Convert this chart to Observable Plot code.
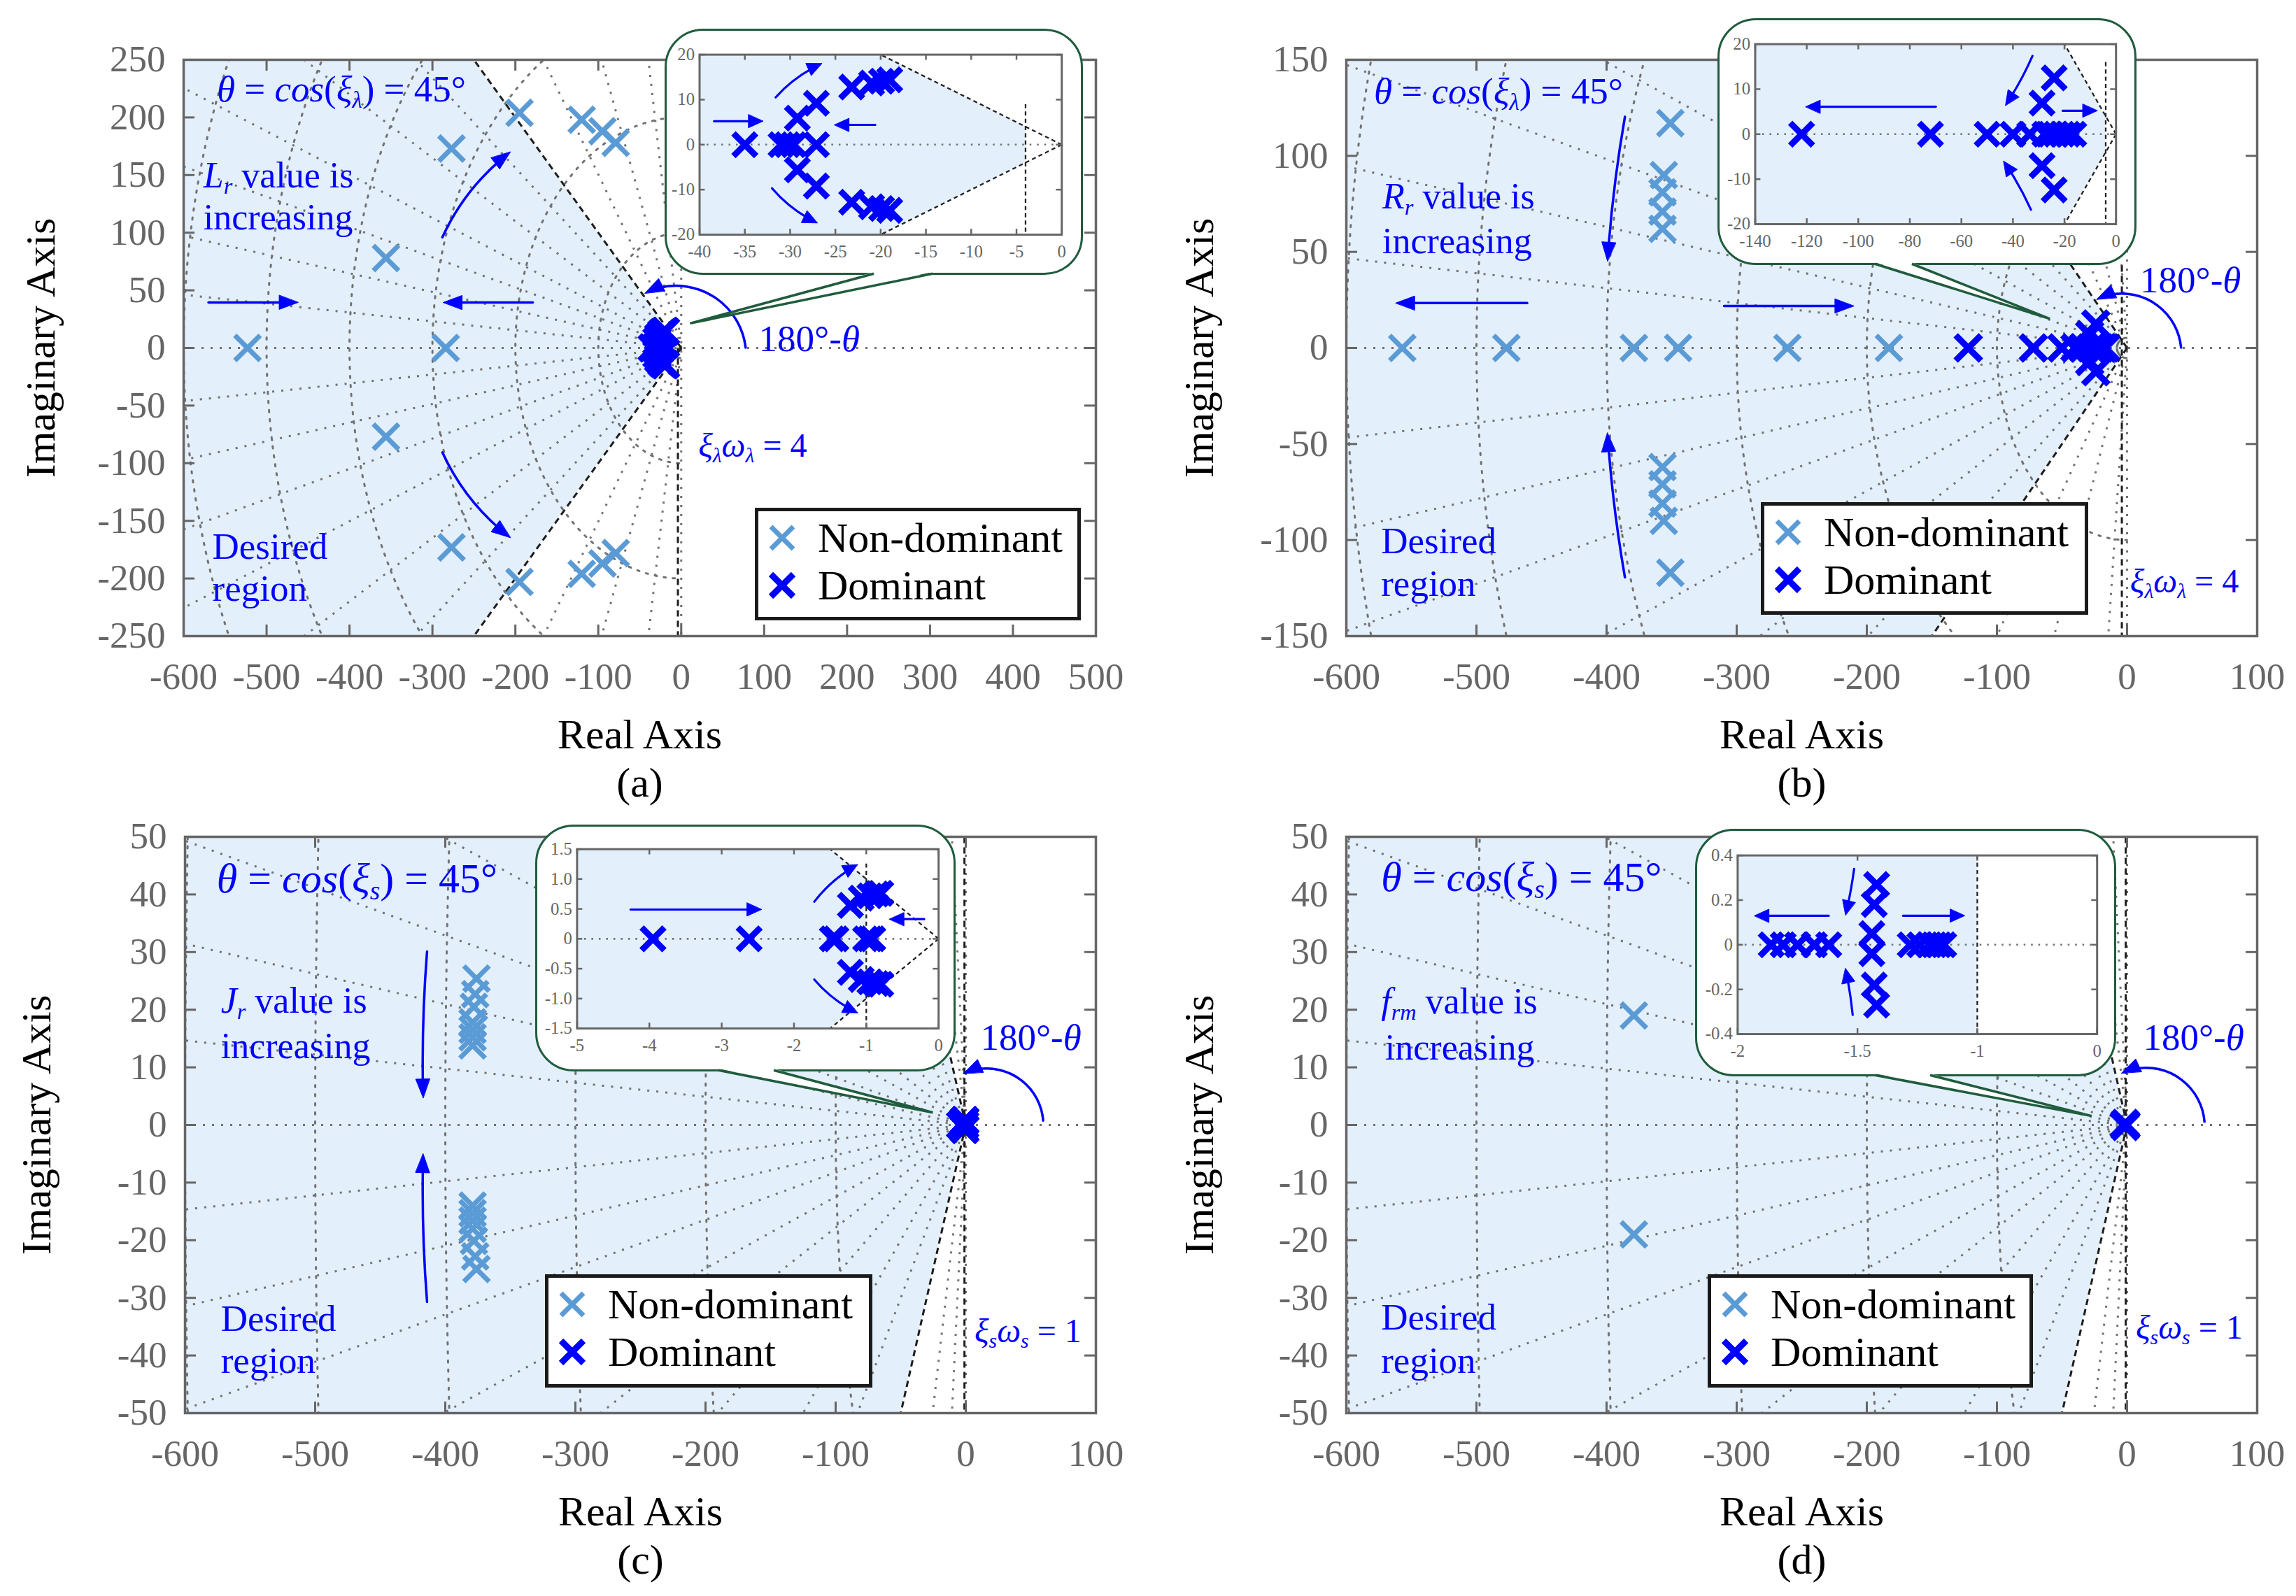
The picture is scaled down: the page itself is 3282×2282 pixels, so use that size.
<!DOCTYPE html>
<html>
<head>
<meta charset="utf-8">
<script src="https://cdn.jsdelivr.net/npm/d3@7"></script>
<script src="https://cdn.jsdelivr.net/npm/@observablehq/plot@0.6"></script>
<style>
  html, body { margin: 0; padding: 0; background: #fff; }
  #root { position: relative; width: 3282px; height: 2282px; overflow: hidden; background: #fff;
    font-family: "Liberation Serif", "Times New Roman", serif; }
  #root svg { display: block; }
  .panel { position: absolute; }
  .ann { position: absolute; color: #0000ff; white-space: nowrap; line-height: 1; transform: translateY(-50%); z-index: 2; }
  .ann sub { font-size: 0.62em; vertical-align: -0.28em; line-height: 0; }
  .legend { position: absolute; border: 5px solid #1a1a1a; background: #fff; box-sizing: border-box; z-index: 3; }
  .legend .lab { position: absolute; font-size: 60px; line-height: 1; color: #000; transform: translateY(-50%); white-space: nowrap; }
  .legend svg { position: absolute; }
  .bubble { position: absolute; border: 3.5px solid #1f5c3d; border-radius: 55px; background: #fff; box-sizing: border-box; z-index: 4; }
  .bubble > svg { position: absolute; left: -3.5px; top: -3.5px; }
  #tails { position: absolute; left: 0; top: 0; z-index: 5; pointer-events: none; }
</style>
</head>
<body>
<div id="root"></div>
<script>
const FONT = '"Liberation Serif","Times New Roman",serif';
const LIGHT = "#5b9bd5";
const DARK = "#0000ff";
const FILL = "#e3effa";
const GRID = "#727272";
const AXIS = "#666666";
const GREEN = "#1f5c3d";

// ================= Panel (a) : Lr =================
const a_xTicks = [-600, -500, -400, -300, -200, -100, 0, 100, 200, 300, 400, 500];
const a_yTicks = [-250, -200, -150, -100, -50, 0, 50, 100, 150, 200, 250];
const a_nonDomX = [-523, -356, -356, -284, -277, -277, -195, -195, -120, -95, -79, -120, -95, -79];
const a_nonDomY = [0, 78, -77, 0, 173, -173, 204, -203, 198, 188, 178, -196, -187, -178];
const a_domX = [-35, -31, -30.3, -29.6, -27.1, -29.2, -29.2, -27.1, -27.1, -23.2, -21, -19.9, -19, -23.2, -21, -19.9, -19];
const a_domY = [0, 0, 0, 0, 0, 5.9, -5.6, 9.2, -9.2, 12.8, 13.7, 14.1, 14.4, -12.8, -13.8, -14.2, -14.6];
const a_gridAngles = [4.4, 9.2, 14.7, 20.6, 28.8, 38, 56.4, 69, 81];
const a_gridRadii = [100, 200, 300, 400, 500, 600];
const a_insetXTicks = [-40, -35, -30, -25, -20, -15, -10, -5, 0];
const a_insetYTicks = [-20, -10, 0, 10, 20];
const a_arrows = [
  {x1: -570, y1: 39.5, x2: -462, y2: 39.5, bend: 0},
  {x1: -179, y1: 39.5, x2: -287, y2: 39.5, bend: 0},
  {x1: -288, y1: 96, x2: -206, y2: 170, bend: 14},
  {x1: -288, y1: -90.6, x2: -206, y2: -164.6, bend: -14},
  {x1: 77.7, y1: 0.3, x2: -43.8, y2: 47.5, bend: -55}
];
const a_insetArrows = [
  {x1: -38.4, y1: 5.2, x2: -33, y2: 5.2, bend: 0},
  {x1: -20.6, y1: 4.4, x2: -25.1, y2: 4.4, bend: 0},
  {x1: -31.6, y1: 10.5, x2: -26.5, y2: 18, bend: 12},
  {x1: -32, y1: -9.7, x2: -27, y2: -17.4, bend: -12}
];
const a_texts = [
  {x: -559.5, y: 224.5, size: 53, html: '<i>θ</i> = <i>cos</i>(<i>ξ<sub>λ</sub></i>) = 45°'},
  {x: -575.7, y: 149.5, size: 52, html: '<i>L<sub>r</sub></i> value is'},
  {x: -575.7, y: 113, size: 52, html: 'increasing'},
  {x: -565, y: -172.5, size: 53, html: 'Desired'},
  {x: -565, y: -209, size: 53, html: 'region'},
  {x: 93.9, y: 7.6, size: 53, html: '180°-<i>θ</i>'},
  {x: 21, y: -85, size: 48, html: '<i>ξ<sub>λ</sub>ω<sub>λ</sub></i> = 4'}
];

// ================= Panel (b) : Rr =================
const b_xTicks = [-600, -500, -400, -300, -200, -100, 0, 100];
const b_yTicks = [-150, -100, -50, 0, 50, 100, 150];
const b_nonDomX = [-557, -477, -379, -345, -261, -183, -351, -356, -357, -357, -357, -351, -356, -357, -357, -357];
const b_nonDomY = [0, 0, 0, 0, 0, 0, 117, 90, 81, 71, 62, -117, -90, -81, -71, -62];
const b_domX = [-122, -72, -50, -40, -33.5, -27.6, -25.4, -23.2, -20.9, -18.7, -16.4, -24, -28.7, -28.7, -24];
const b_domY = [0, 0, 0, 0, 0, 0, 0, 0, 0, 0, 0, 12.5, 6.9, -7, -12.4];
const b_gridAngles = [4.45, 8.95, 13.8, 20.4, 28, 37, 56.3, 69.5, 84.5];
const b_gridRadii = [100, 200, 300, 400, 500, 600];
const b_insetXTicks = [-140, -120, -100, -80, -60, -40, -20, 0];
const b_insetYTicks = [-20, -10, 0, 10, 20];
const b_arrows = [
  {x1: -461, y1: 23.4, x2: -562, y2: 23.4, bend: 0},
  {x1: -309.7, y1: 21.8, x2: -210, y2: 21.8, bend: 0},
  {x1: -385.9, y1: 120.3, x2: -399.3, y2: 45.2, bend: -3},
  {x1: -385.9, y1: -119.4, x2: -399.3, y2: -44.2, bend: 3},
  {x1: 41.5, y1: 0.2, x2: -23.4, y2: 25.3, bend: -55}
];
const b_insetArrows = [
  {x1: -69.9, y1: 6.1, x2: -120.4, y2: 6.1, bend: 0},
  {x1: -20.7, y1: 5.2, x2: -7.3, y2: 5.2, bend: 0},
  {x1: -32.4, y1: 17.4, x2: -42.9, y2: 6.4, bend: 5},
  {x1: -33, y1: -16.8, x2: -43.6, y2: -6, bend: -5}
];
const b_texts = [
  {x: -578.5, y: 133.7, size: 53, html: '<i>θ</i> = <i>cos</i>(<i>ξ<sub>λ</sub></i>) = 45°'},
  {x: -572, y: 78.8, size: 52, html: '<i>R<sub>r</sub></i> value is'},
  {x: -572, y: 55.2, size: 52, html: 'increasing'},
  {x: -573, y: -100.6, size: 53, html: 'Desired'},
  {x: -573, y: -122.6, size: 53, html: 'region'},
  {x: 10.2, y: 35.2, size: 53, html: '180°-<i>θ</i>'},
  {x: 2.6, y: -121.6, size: 48, html: '<i>ξ<sub>λ</sub>ω<sub>λ</sub></i> = 4'}
];

// ================= Panel (c) : Jr =================
const c_xTicks = [-600, -500, -400, -300, -200, -100, 0, 100];
const c_yTicks = [-50, -40, -30, -20, -10, 0, 10, 20, 30, 40, 50];
const c_nonDomX = [-376, -377, -378, -379, -379, -379, -379, -379, -379, -379, -379, -378, -377, -376];
const c_nonDomY = [25.4, 22.7, 20.5, 17.8, 16.5, 15.2, 13.8, -14, -15.3, -16.6, -18, -20.1, -22.8, -25];
const c_domX = [-3.95, -2.62, -1.47, -1.42, -1.01, -0.95, -0.91, -1.22, -1.07, -0.95, -0.86, -0.8, -1.22, -1.07, -0.95, -0.86, -0.8];
const c_domY = [0, 0, 0, 0, 0, 0, 0, 0.56, 0.68, 0.72, 0.75, 0.76, -0.56, -0.68, -0.72, -0.75, -0.76];
const c_gridAngles = [1.4, 3, 4.7, 7.1, 10.1, 14.7, 21.8, 31, 63, 78];
const c_gridRadii = [100, 200, 300, 400, 500, 600];
const c_insetXTicks = [-5, -4, -3, -2, -1, 0];
const c_insetYTicks = [-1.5, -1, -0.5, 0, 0.5, 1, 1.5];
const c_arrows = [
  {x1: -414, y1: 30.1, x2: -417, y2: 4.7, bend: -3},
  {x1: -414, y1: -30.7, x2: -417, y2: -5, bend: 3},
  {x1: 59.5, y1: 0.76, x2: -1.9, y2: 8.9, bend: -55}
];
const c_insetArrows = [
  {x1: -4.26, y1: 0.49, x2: -2.45, y2: 0.49, bend: 0},
  {x1: -0.2, y1: 0.33, x2: -0.68, y2: 0.33, bend: 0},
  {x1: -1.72, y1: 0.62, x2: -1.12, y2: 1.24, bend: 12},
  {x1: -1.72, y1: -0.68, x2: -1.12, y2: -1.24, bend: -12}
];
const c_texts = [
  {x: -575.4, y: 42.7, size: 60, html: '<i>θ</i> = <i>cos</i>(<i>ξ<sub>s</sub></i>) = 45°'},
  {x: -572.2, y: 21.5, size: 52, html: '<i>J<sub>r</sub></i> value is'},
  {x: -572.2, y: 13.6, size: 52, html: 'increasing'},
  {x: -572.2, y: -33.6, size: 53, html: 'Desired'},
  {x: -572.2, y: -40.9, size: 53, html: 'region'},
  {x: 11.5, y: 15.2, size: 53, html: '180°-<i>θ</i>'},
  {x: 7, y: -35.8, size: 48, html: '<i>ξ<sub>s</sub>ω<sub>s</sub></i> = 1'}
];

// ================= Panel (d) : frm =================
const d_xTicks = [-600, -500, -400, -300, -200, -100, 0, 100];
const d_yTicks = [-50, -40, -30, -20, -10, 0, 10, 20, 30, 40, 50];
const d_nonDomX = [-379, -379];
const d_nonDomY = [19, -19];
const d_domX = [-1.86, -1.81, -1.75, -1.68, -1.62, -1.42, -1.43, -1.44, -1.44, -1.43, -1.42, -1.28, -1.24, -1.2, -1.18, -1.16, -1.14];
const d_domY = [0, 0, 0, 0, 0, 0.27, 0.18, 0.05, -0.04, -0.18, -0.27, 0, 0, 0, 0, 0, 0];
const d_gridAngles = [1.4, 3, 4.7, 7.1, 10.1, 14.7, 21.8, 31, 63, 78];
const d_gridRadii = [100, 200, 300, 400, 500, 600];
const d_insetXTicks = [-2, -1.5, -1, -0.5];
const d_insetXLabels = ["-2", "-1.5", "-1", "0"];
const d_insetYTicks = [-0.4, -0.2, 0, 0.2, 0.4];
const d_arrows = [
  {x1: 59.5, y1: 0.57, x2: -4.3, y2: 9, bend: -55}
];
const d_insetArrows = [
  {x1: -1.62, y1: 0.13, x2: -1.93, y2: 0.13, bend: 0},
  {x1: -1.31, y1: 0.13, x2: -1.053, y2: 0.13, bend: 0},
  {x1: -1.514, y1: 0.34, x2: -1.55, y2: 0.133, bend: 3},
  {x1: -1.52, y1: -0.314, x2: -1.55, y2: -0.106, bend: -3}
];
const d_texts = [
  {x: -573, y: 43, size: 60, html: '<i>θ</i> = <i>cos</i>(<i>ξ<sub>s</sub></i>) = 45°'},
  {x: -573, y: 21.4, size: 52, html: '<i>f<sub>rm</sub></i> value is'},
  {x: -570, y: 13.4, size: 52, html: 'increasing'},
  {x: -573, y: -33.4, size: 53, html: 'Desired'},
  {x: -573, y: -40.9, size: 53, html: 'region'},
  {x: 12.6, y: 15.2, size: 53, html: '180°-<i>θ</i>'},
  {x: 7, y: -35.2, size: 48, html: '<i>ξ<sub>s</sub>ω<sub>s</sub></i> = 1'}
];

const legendItems = [
  {label: "Non-dominant", color: LIGHT, sw: 7},
  {label: "Dominant", color: DARK, sw: 9}
];

const fmt = d => String(d);
const fmt1 = d => (d === 0 ? "0" : d.toFixed(1));

const panels = [
  {
    left: 0, top: 0, width: 1640, height: 1141, margin: {l: 262, r: 74, t: 85, b: 232},
    xDomain: [-600, 500], yDomain: [-250, 250], xTicks: a_xTicks, yTicks: a_yTicks,
    sigma: 4, vTop: 0, gridAngles: a_gridAngles, gridRadii: a_gridRadii,
    nonDomX: a_nonDomX, nonDomY: a_nonDomY, domX: a_domX, domY: a_domY,
    arrows: a_arrows, texts: a_texts, caption: "(a)", yTitleDx: -204,
    legend: {left: 1079, top: 726, w: 466, h: 161},
    bubble: {left: 950, top: 41, w: 598, h: 352, tipX: 11, tipY: 21, b1: 299, b2: 383},
    inset: {margin: {l: 50, r: 25, t: 37, b: 55}, xDomain: [-40, 0], yDomain: [-20, 20],
      xTicks: a_insetXTicks, yTicks: a_insetYTicks, xFormat: fmt, yFormat: fmt, vTop: 9, diag: true, arrows: a_insetArrows}
  },
  {
    left: 1640, top: 0, width: 1642, height: 1141, margin: {l: 284, r: 56, t: 85, b: 232},
    xDomain: [-600, 100], yDomain: [-150, 150], xTicks: b_xTicks, yTicks: b_yTicks,
    sigma: 4, vTop: 43, gridAngles: b_gridAngles, gridRadii: b_gridRadii,
    nonDomX: b_nonDomX, nonDomY: b_nonDomY, domX: b_domX, domY: b_domY,
    arrows: b_arrows, texts: b_texts, caption: "(b)", yTitleDx: -210,
    legend: {left: 2517, top: 718, w: 468, h: 161},
    bubble: {left: 2455, top: 26, w: 599, h: 353, tipX: -59, tipY: 15, b1: 225, b2: 278},
    inset: {margin: {l: 54, r: 24, t: 37, b: 56}, xDomain: [-140, 0], yDomain: [-20, 20],
      xTicks: b_insetXTicks, yTicks: b_insetYTicks, xFormat: fmt, yFormat: fmt, vTop: 16, diag: true, arrows: b_insetArrows}
  },
  {
    left: 0, top: 1141, width: 1640, height: 1141, margin: {l: 264, r: 74, t: 55, b: 262},
    xDomain: [-600, 100], yDomain: [-50, 50], xTicks: c_xTicks, yTicks: c_yTicks,
    sigma: 1, vTop: 50, gridAngles: c_gridAngles, gridRadii: c_gridRadii,
    nonDomX: c_nonDomX, nonDomY: c_nonDomY, domX: c_domX, domY: c_domY,
    arrows: c_arrows, texts: c_texts, caption: "(c)", yTitleDx: -212,
    legend: {left: 779, top: 1822, w: 468, h: 162},
    bubble: {left: 765, top: 1179, w: 601, h: 353, tipX: -25, tipY: 2.1, b1: 262, b2: 341},
    inset: {margin: {l: 60, r: 19, t: 35, b: 59}, xDomain: [-5, 0], yDomain: [-1.5, 1.5],
      xTicks: c_insetXTicks, yTicks: c_insetYTicks, xFormat: fmt, yFormat: fmt1, vTop: 1.26, diag: true, arrows: c_insetArrows}
  },
  {
    left: 1640, top: 1141, width: 1642, height: 1141, margin: {l: 284, r: 56, t: 55, b: 262},
    xDomain: [-600, 100], yDomain: [-50, 50], xTicks: d_xTicks, yTicks: d_yTicks,
    sigma: 1, vTop: 50, gridAngles: d_gridAngles, gridRadii: d_gridRadii,
    nonDomX: d_nonDomX, nonDomY: d_nonDomY, domX: d_domX, domY: d_domY,
    arrows: d_arrows, texts: d_texts, caption: "(d)", yTitleDx: -210,
    legend: {left: 2441, top: 1822, w: 465, h: 162},
    bubble: {left: 2423, top: 1185, w: 602, h: 354, tipX: -27, tipY: 1.5, b1: 257, b2: 336},
    inset: {margin: {l: 61, r: 22, t: 38, b: 58}, xDomain: [-2, -0.5], yDomain: [-0.4, 0.4],
      xTicks: d_insetXTicks, yTicks: d_insetYTicks,
      xFormat: d => d_insetXLabels[d_insetXTicks.indexOf(d)], yFormat: fmt1, vTop: 0.4, diag: false, arrows: d_insetArrows}
  }
];

// ---------- helpers ----------
function regionPoints(xmin, ymax, s) {
  const pts = [{x: xmin, lo: -Math.min(-xmin, ymax), hi: Math.min(-xmin, ymax)}];
  if (-ymax > xmin && -ymax < -s) pts.push({x: -ymax, lo: -ymax, hi: ymax});
  pts.push({x: -s, lo: -Math.min(s, ymax), hi: Math.min(s, ymax)});
  return pts;
}
function headPolys(arrows, kx, ky, L, Wd) {
  const out = [];
  arrows.forEach((a, i) => {
    const dxs = (a.x2 - a.x1) * kx, dys = -(a.y2 - a.y1) * ky;
    const phi = Math.atan2(dys, dxs) + (a.bend || 0) * Math.PI / 180;
    const c = Math.cos(phi), s = Math.sin(phi);
    const bx = -L * c, by = -L * s, px = -s * Wd / 2, py = c * Wd / 2;
    const toData = (ox, oy) => ({id: i, x: a.x2 + ox / kx, y: a.y2 - oy / ky});
    out.push(toData(0, 0), toData(bx + px, by + py), toData(bx - px, by - py));
  });
  return out;
}
function frameTicks(xTicks, yTicks, pw, ph, len, sw) {
  return [
    Plot.tickX(xTicks, {x: d => d, insetTop: ph - len, stroke: AXIS, strokeWidth: sw}),
    Plot.tickX(xTicks, {x: d => d, insetBottom: ph - len, stroke: AXIS, strokeWidth: sw}),
    Plot.tickY(yTicks, {y: d => d, insetRight: pw - len, stroke: AXIS, strokeWidth: sw}),
    Plot.tickY(yTicks, {y: d => d, insetLeft: pw - len, stroke: AXIS, strokeWidth: sw})
  ];
}
function arrowMarks(arrows, kx, ky, sw, L, Wd) {
  return [
    ...arrows.map(a => Plot.arrow([a], {x1: "x1", y1: "y1", x2: "x2", y2: "y2", bend: a.bend,
      stroke: DARK, strokeWidth: sw, headLength: 0, insetEnd: L * 0.75})),
    Plot.line(headPolys(arrows, kx, ky, L, Wd), {x: "x", y: "y", z: "id", fill: DARK, stroke: DARK, strokeWidth: 1, curve: "linear-closed"})
  ];
}

const root = document.getElementById("root");
const tails = [];

function buildInset(p, bubbleEl) {
  const I = p.inset, B = p.bubble;
  const {l, r, t, b} = I.margin;
  const W = B.w, H = B.h;
  const pw = W - l - r, ph = H - t - b;
  const [x0, x1] = I.xDomain, [y0, y1] = I.yDomain;
  const kx = pw / (x1 - x0), ky = ph / (y1 - y0);
  const dom = p.domX.map((x, i) => ({x, y: p.domY[i]}));
  const FAR = 1e4;
  const diag = [{x1: 0, y1: 0, x2: -FAR, y2: FAR}, {x1: 0, y1: 0, x2: -FAR, y2: -FAR}];
  const plot = Plot.plot({
    width: W, height: H, marginLeft: l, marginRight: r, marginTop: t, marginBottom: b,
    x: {domain: I.xDomain}, y: {domain: I.yDomain},
    style: {fontFamily: FONT, fontSize: "25px", color: AXIS, background: "transparent", overflow: "visible"},
    marks: [
      Plot.areaY(regionPoints(x0, y1, p.sigma), {x: "x", y1: "lo", y2: "hi", fill: FILL, curve: "linear"}),
      Plot.ruleY([0], {stroke: GRID, strokeWidth: 2.6, strokeDasharray: "2.6,8"}),
      I.diag ? Plot.link(diag, {x1: "x1", y1: "y1", x2: "x2", y2: "y2", stroke: "#222", strokeWidth: 2.3, strokeDasharray: "6,4.5", clip: true}) : null,
      Plot.link([{x: -p.sigma, ya: I.vTop, yb: y0}], {x1: "x", x2: "x", y1: "ya", y2: "yb", stroke: "#222", strokeWidth: 2.3, strokeDasharray: "6,4.5"}),
      Plot.dot(dom, {x: "x", y: "y", symbol: "times", r: 15, stroke: DARK, strokeWidth: 9, fill: "none", clip: true}),
      ...arrowMarks(I.arrows, kx, ky, 3.2, 21, 19),
      Plot.frame({stroke: AXIS, strokeWidth: 3}),
      ...frameTicks(I.xTicks, I.yTicks, pw, ph, 8, 2.5),
      Plot.axisX({ticks: I.xTicks, anchor: "bottom", tickSize: 0, tickPadding: 15, tickFormat: I.xFormat, fontSize: 25, fontFamily: FONT, label: null}),
      Plot.axisY({ticks: I.yTicks, anchor: "left", tickSize: 0, tickPadding: 7, tickFormat: I.yFormat, fontSize: 25, fontFamily: FONT, label: null})
    ]
  });
  bubbleEl.appendChild(plot);
}

function buildMain(p) {
  const {l, r, t, b} = p.margin;
  const pw = p.width - l - r, ph = p.height - t - b;
  const [x0, x1] = p.xDomain, [y0, y1] = p.yDomain;
  const kx = pw / (x1 - x0), ky = ph / (y1 - y0);
  const nonDom = p.nonDomX.map((x, i) => ({x, y: p.nonDomY[i]}));
  const dom = p.domX.map((x, i) => ({x, y: p.domY[i]}));
  const FAR = 1e5;
  const radial = p.gridAngles.flatMap(a => {
    const c = Math.cos(a * Math.PI / 180), s = Math.sin(a * Math.PI / 180);
    return [{x1: 0, y1: 0, x2: -FAR * c, y2: FAR * s}, {x1: 0, y1: 0, x2: -FAR * c, y2: -FAR * s}];
  });
  const arcs = [];
  p.gridRadii.forEach(rad => {
    for (let d = 90; d <= 270; d += 1) arcs.push({rad, x: rad * Math.cos(d * Math.PI / 180), y: rad * Math.sin(d * Math.PI / 180)});
  });
  const diag = [{x1: 0, y1: 0, x2: -FAR, y2: FAR}, {x1: 0, y1: 0, x2: -FAR, y2: -FAR}];
  const dotted = {stroke: GRID, strokeWidth: 3, strokeDasharray: "3,10"};
  const dashed = {stroke: "#1e1e1e", strokeWidth: 3, strokeDasharray: "9,6"};
  const plot = Plot.plot({
    width: p.width, height: p.height, marginLeft: l, marginRight: r, marginTop: t, marginBottom: b,
    x: {domain: p.xDomain}, y: {domain: p.yDomain},
    style: {fontFamily: FONT, fontSize: "53px", color: AXIS, background: "transparent", overflow: "visible"},
    marks: [
      Plot.areaY(regionPoints(x0, y1, p.sigma), {x: "x", y1: "lo", y2: "hi", fill: FILL, curve: "linear"}),
      Plot.link(radial, {x1: "x1", y1: "y1", x2: "x2", y2: "y2", ...dotted, clip: true}),
      Plot.line(arcs, {x: "x", y: "y", z: "rad", ...dotted, clip: true}),
      Plot.ruleY([0], dotted),
      Plot.ruleX([0], dotted),
      Plot.link(diag, {x1: "x1", y1: "y1", x2: "x2", y2: "y2", ...dashed, clip: true}),
      Plot.link([{x: -p.sigma, ya: p.vTop, yb: y0}], {x1: "x", x2: "x", y1: "ya", y2: "yb", ...dashed}),
      Plot.dot(nonDom, {x: "x", y: "y", symbol: "times", r: 16.5, stroke: LIGHT, strokeWidth: 7, fill: "none"}),
      Plot.dot(dom, {x: "x", y: "y", symbol: "times", r: 16.5, stroke: DARK, strokeWidth: 9, fill: "none"}),
      ...arrowMarks(p.arrows, kx, ky, 3.5, 27, 20),
      Plot.frame({stroke: AXIS, strokeWidth: 3.5}),
      ...frameTicks(p.xTicks, p.yTicks, pw, ph, 16, 3),
      Plot.axisX({ticks: p.xTicks, anchor: "bottom", tickSize: 0, tickPadding: 38, tickFormat: fmt, fontSize: 53, fontFamily: FONT, label: null}),
      Plot.axisY({ticks: p.yTicks, anchor: "left", tickSize: 0, tickPadding: 26, tickFormat: fmt, fontSize: 53, fontFamily: FONT, label: null}),
      Plot.text(["Real Axis"], {text: d => d, frameAnchor: "bottom", lineAnchor: "middle", textAnchor: "middle", dy: 141, fontSize: 60, fontFamily: FONT, fill: "#000"}),
      Plot.text(["Imaginary Axis"], {text: d => d, frameAnchor: "left", lineAnchor: "middle", textAnchor: "middle", dx: p.yTitleDx, rotate: -90, fontSize: 60, fontFamily: FONT, fill: "#000"}),
      Plot.text([p.caption], {text: d => d, frameAnchor: "bottom", lineAnchor: "middle", textAnchor: "middle", dy: 210, fontSize: 60, fontFamily: FONT, fill: "#000"})
    ]
  });
  const wrap = document.createElement("div");
  wrap.className = "panel";
  wrap.style.left = p.left + "px";
  wrap.style.top = p.top + "px";
  wrap.appendChild(plot);
  root.appendChild(wrap);

  const sx = plot.scale("x"), sy = plot.scale("y");
  // annotations
  p.texts.forEach(tx => {
    const d = document.createElement("div");
    d.className = "ann";
    d.style.left = (p.left + sx.apply(tx.x)) + "px";
    d.style.top = (p.top + sy.apply(tx.y)) + "px";
    d.style.fontSize = tx.size + "px";
    d.innerHTML = tx.html;
    root.appendChild(d);
  });
  // legend
  const L = p.legend;
  const lg = document.createElement("div");
  lg.className = "legend";
  lg.style.left = L.left + "px"; lg.style.top = L.top + "px";
  lg.style.width = L.w + "px"; lg.style.height = L.h + "px";
  const rowsY = [43, 111];
  legendItems.forEach((it, i) => {
    const ns = "http://www.w3.org/2000/svg";
    const s = document.createElementNS(ns, "svg");
    s.setAttribute("width", 46); s.setAttribute("height", 46);
    s.style.left = (39 - 23 - 5) + "px"; s.style.top = (rowsY[i] - 23 - 5) + "px";
    const path = document.createElementNS(ns, "path");
    path.setAttribute("d", "M7,7L39,39M7,39L39,7");
    path.setAttribute("stroke", it.color); path.setAttribute("stroke-width", it.sw); path.setAttribute("fill", "none");
    s.appendChild(path);
    lg.appendChild(s);
    const lab = document.createElement("div");
    lab.className = "lab";
    lab.style.left = (90 - 5) + "px"; lab.style.top = (rowsY[i] - 5) + "px";
    lab.textContent = it.label;
    lg.appendChild(lab);
  });
  root.appendChild(lg);
  // bubble + inset
  const B = p.bubble;
  const bub = document.createElement("div");
  bub.className = "bubble";
  bub.style.left = B.left + "px"; bub.style.top = B.top + "px";
  bub.style.width = B.w + "px"; bub.style.height = B.h + "px";
  root.appendChild(bub);
  buildInset(p, bub);
  tails.push({
    b1: B.left + B.b1, b2: B.left + B.b2, by: B.top + B.h,
    tx: p.left + sx.apply(B.tipX), ty: p.top + sy.apply(B.tipY)
  });
}

panels.forEach(buildMain);

// callout tails
(function () {
  const ns = "http://www.w3.org/2000/svg";
  const svg = document.createElementNS(ns, "svg");
  svg.setAttribute("id", "tails");
  svg.setAttribute("width", 3282); svg.setAttribute("height", 2282);
  tails.forEach(T => {
    const f = document.createElementNS(ns, "path");
    f.setAttribute("d", `M${T.b1},${T.by - 4}L${T.tx},${T.ty}L${T.b2},${T.by - 4}Z`);
    f.setAttribute("fill", "#fff"); f.setAttribute("stroke", "none");
    svg.appendChild(f);
    const s = document.createElementNS(ns, "path");
    s.setAttribute("d", `M${T.b1},${T.by - 1.75}L${T.tx},${T.ty}L${T.b2},${T.by - 1.75}`);
    s.setAttribute("fill", "none"); s.setAttribute("stroke", GREEN); s.setAttribute("stroke-width", 3.5);
    s.setAttribute("stroke-linejoin", "miter"); s.setAttribute("stroke-miterlimit", 20);
    svg.appendChild(s);
  });
  root.appendChild(svg);
})();
</script>
</body>
</html>
